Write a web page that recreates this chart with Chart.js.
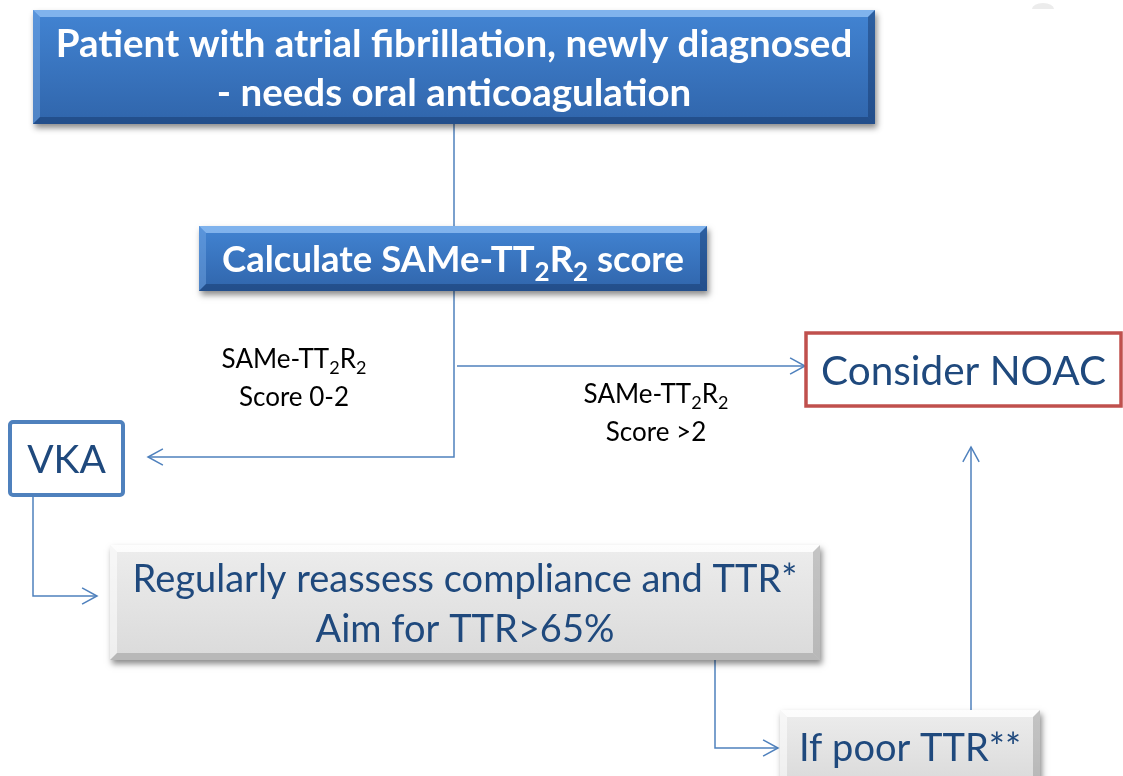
<!DOCTYPE html>
<html>
<head>
<meta charset="utf-8">
<script src="https://cdn.jsdelivr.net/npm/chart.js@4.4.1/dist/chart.umd.min.js"></script>
<style>
  html, body { margin: 0; padding: 0; background: #fff; overflow: hidden; }
  canvas { display: block; }
</style>
</head>
<body>
<canvas id="flow" width="1123" height="776"></canvas>
<script>
// flowchart nodes, in diagram units (x to the right, y downward)
var nodeNames = ['start', 'score', 'noac', 'vka', 'reassess', 'poor'];
var nodeText = [
    ['Patient with atrial fibrillation, newly diagnosed', '- needs oral anticoagulation'],
    ['Calculate SAMe-TT_2R_2 score'],
    ['Consider NOAC'],
    ['VKA'],
    ['Regularly reassess compliance and TTR*', 'Aim for TTR>65%'],
    ['If poor TTR**']
];
var nodeLeft = [33, 199, 806, 10, 110, 780];
var nodeRight = [875, 707, 1121, 123, 820, 1040];
var nodeTop = [10, 226, 333, 422, 545, 710];
var nodeBottom = [124, 291, 406, 495, 660, 784];

// connectors
var edgeX = [[454, 454], [454, 454, 148], [457, 805], [33, 33, 97], [715, 715, 778], [971, 971]];
var edgeY = [[124, 226], [291, 457, 457], [366, 366], [495, 596, 596], [660, 748, 748], [710, 447]];
var edgeArrow = [false, true, true, true, true, true];

// branch labels
var labelText = [['SAMe-TT_2R_2', 'Score 0-2'], ['SAMe-TT_2R_2', 'Score >2']];
var labelX = [294, 656];
var labelY = [377, 412];

var nodeStyle = {
    start:    { kind: 'blue', size: 38.5, weight: 'bold', color: '#ffffff', gap: 49 },
    score:    { kind: 'blue', size: 36.5, weight: 'bold', color: '#ffffff', gap: 40 },
    noac:     { kind: 'red', size: 40.5, weight: 'normal', color: '#1f497d', gap: 40 },
    vka:      { kind: 'outline', size: 39, weight: 'normal', color: '#1f497d', gap: 40 },
    reassess: { kind: 'grey', size: 38, weight: 'normal', color: '#1f497d', gap: 50 },
    poor:     { kind: 'grey', size: 38, weight: 'normal', color: '#1f497d', gap: 40 }
};
var lineColor = '#4f81bd';
var fontFamily = 'Lato, "Open Sans", sans-serif';

function splitRich(str) {
    // "_2" means subscript 2
    var parts = [];
    var re = /_(\d)/g, last = 0, m;
    while ((m = re.exec(str)) !== null) {
        if (m.index > last) parts.push({ t: str.slice(last, m.index), sub: false });
        parts.push({ t: m[1], sub: true });
        last = re.lastIndex;
    }
    if (last < str.length) parts.push({ t: str.slice(last), sub: false });
    return parts;
}

function drawRich(ctx, str, cx, cy, size, weight, color) {
    var parts = splitRich(str);
    var mainFont = weight + ' ' + size + 'px ' + fontFamily;
    var subSize = Math.round(size * 0.7);
    var subFont = weight + ' ' + subSize + 'px ' + fontFamily;
    var total = 0;
    parts.forEach(function (p) {
        ctx.font = p.sub ? subFont : mainFont;
        p.w = ctx.measureText(p.t).width;
        total += p.w;
    });
    var x = cx - total / 2;
    var base = cy + size * 0.38;
    ctx.fillStyle = color;
    ctx.textAlign = 'left';
    ctx.textBaseline = 'alphabetic';
    parts.forEach(function (p) {
        ctx.font = p.sub ? subFont : mainFont;
        ctx.fillText(p.t, x, p.sub ? base + size * 0.24 : base);
        x += p.w;
    });
}

function bevelBox(ctx, x0, y0, x1, y1, c) {
    var b = 7;
    ctx.save();
    ctx.shadowColor = 'rgba(0,0,0,0.45)';
    ctx.shadowBlur = 6;
    ctx.shadowOffsetX = 2;
    ctx.shadowOffsetY = 4;
    ctx.fillStyle = c.bottom;
    ctx.fillRect(x0, y0, x1 - x0, y1 - y0);
    ctx.restore();

    var g = ctx.createLinearGradient(0, y0, 0, y1);
    g.addColorStop(0, c.top);
    g.addColorStop(1, c.bottom);
    ctx.fillStyle = g;
    ctx.fillRect(x0, y0, x1 - x0, y1 - y0);

    function quad(pts, fill) {
        ctx.beginPath();
        ctx.moveTo(pts[0], pts[1]);
        for (var i = 2; i < pts.length; i += 2) ctx.lineTo(pts[i], pts[i + 1]);
        ctx.closePath();
        ctx.fillStyle = fill;
        ctx.fill();
    }
    quad([x0, y0, x1, y0, x1 - b, y0 + b, x0 + b, y0 + b], c.light);
    quad([x0, y0, x0 + b, y0 + b, x0 + b, y1 - b, x0, y1], c.side);
    quad([x0, y1, x0 + b, y1 - b, x1 - b, y1 - b, x1, y1], c.dark);
    quad([x1, y0, x1, y1, x1 - b, y1 - b, x1 - b, y0 + b], c.dark);
}

var palettes = {
    blue: { top: '#4284d3', bottom: '#3065ab', light: 'rgba(150,195,245,0.75)', side: 'rgba(120,170,230,0.45)', dark: 'rgba(20,50,100,0.45)' },
    grey: { top: '#ededed', bottom: '#dadada', light: 'rgba(255,255,255,0.85)', side: 'rgba(255,255,255,0.55)', dark: 'rgba(120,120,120,0.35)' }
};

var flowPlugin = {
    id: 'flowPlugin',
    afterDatasetsDraw: function (chart) {
        var ctx = chart.ctx;
        var xs = chart.scales.x, ys = chart.scales.y;
        function px(v) { return xs.getPixelForValue(v); }
        function py(v) { return ys.getPixelForValue(v); }

        // arrow heads
        ctx.save();
        ctx.strokeStyle = lineColor;
        ctx.lineWidth = 1.5;
        edgeX.forEach(function (ex, i) {
            if (!edgeArrow[i]) return;
            var n = ex.length;
            var tx = px(ex[n - 1]), ty = py(edgeY[i][n - 1]);
            var sx = px(ex[n - 2]), sy = py(edgeY[i][n - 2]);
            var a = Math.atan2(ty - sy, tx - sx);
            var len = 17, spread = 0.5;
            ctx.beginPath();
            ctx.moveTo(tx - len * Math.cos(a - spread), ty - len * Math.sin(a - spread));
            ctx.lineTo(tx, ty);
            ctx.lineTo(tx - len * Math.cos(a + spread), ty - len * Math.sin(a + spread));
            ctx.stroke();
        });
        ctx.restore();

        // boxes
        nodeNames.forEach(function (name, i) {
            var st = nodeStyle[name];
            var x0 = px(nodeLeft[i]), x1 = px(nodeRight[i]);
            var y0 = py(nodeTop[i]), y1 = py(nodeBottom[i]);
            if (st.kind === 'blue' || st.kind === 'grey') {
                bevelBox(ctx, x0, y0, x1, y1, palettes[st.kind]);
            } else if (st.kind === 'red') {
                ctx.fillStyle = '#ffffff';
                ctx.fillRect(x0, y0, x1 - x0, y1 - y0);
                ctx.strokeStyle = '#c0504d';
                ctx.lineWidth = 3.5;
                ctx.strokeRect(x0, y0, x1 - x0, y1 - y0);
            } else {
                ctx.fillStyle = '#ffffff';
                ctx.fillRect(x0, y0, x1 - x0, y1 - y0);
                ctx.strokeStyle = '#4f81bd';
                ctx.lineWidth = 4;
                ctx.beginPath();
                ctx.roundRect(x0, y0, x1 - x0, y1 - y0, 3);
                ctx.stroke();
            }
            var cx = (x0 + x1) / 2, cy = (y0 + y1) / 2;
            var lines = nodeText[i];
            lines.forEach(function (t, k) {
                var ly = cy + (k - (lines.length - 1) / 2) * st.gap;
                drawRich(ctx, t, cx, ly, st.size, st.weight, st.color);
            });
        });

        // branch labels
        labelText.forEach(function (lines, i) {
            lines.forEach(function (t, k) {
                var ly = py(labelY[i]) + (k - (lines.length - 1) / 2) * 38;
                drawRich(ctx, t, px(labelX[i]), ly, 26, 'normal', '#000000');
            });
        });

        // faint mark at the top right
        ctx.fillStyle = '#ececec';
        ctx.beginPath();
        ctx.ellipse(px(1043), py(9), 11, 6, 0, Math.PI, 2 * Math.PI);
        ctx.fill();
    }
};

var flowChart = new Chart(document.getElementById('flow'), {
    type: 'scatter',
    data: {
        datasets: edgeX.map(function (ex, i) {
            return {
                data: ex.map(function (x, j) { return { x: x, y: edgeY[i][j] }; }),
                showLine: true,
                borderColor: lineColor,
                borderWidth: 1.5,
                pointRadius: 0,
                fill: false,
                tension: 0
            };
        })
    },
    options: {
        responsive: false,
        animation: false,
        events: [],
        layout: { padding: 0 },
        plugins: { legend: { display: false }, tooltip: { enabled: false } },
        scales: {
            x: { type: 'linear', min: 0, max: 1123, display: false },
            y: { type: 'linear', min: 0, max: 776, reverse: true, display: false }
        }
    },
    plugins: [flowPlugin]
});
</script>
</body>
</html>
